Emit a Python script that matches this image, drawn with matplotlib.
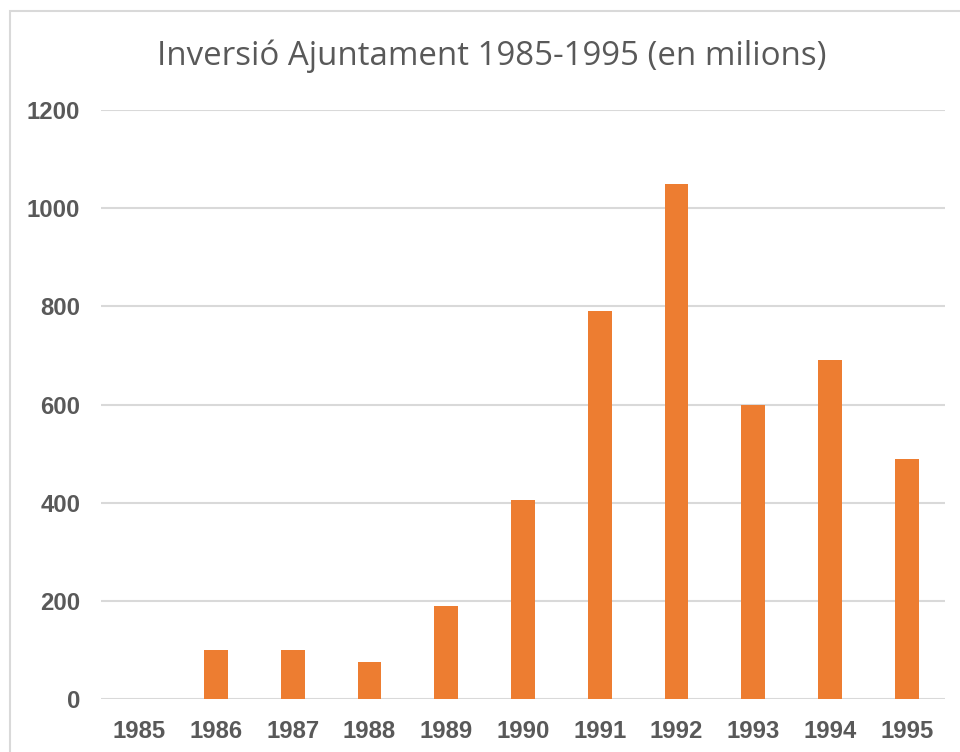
import matplotlib
matplotlib.use("Agg")
import matplotlib.pyplot as plt
from matplotlib.patches import Rectangle

years = ["1985", "1986", "1987", "1988", "1989", "1990",
         "1991", "1992", "1993", "1994", "1995"]
inversio = [0, 100, 100, 75, 190, 405, 790, 1050, 600, 690, 490]
y_ticks = [0, 200, 400, 600, 800, 1000, 1200]
title = "Inversió Ajuntament 1985-1995 (en milions)"

W, H = 960, 752
fig = plt.figure(figsize=(W / 100, H / 100), dpi=100)
fig.patch.set_facecolor("white")

# chart area border
fig.patches.append(Rectangle((10 / W, -0.1), 1.2, 1 - 11 / H + 0.1,
                             transform=fig.transFigure, fill=False,
                             edgecolor="#d9d9d9", linewidth=1.5))

left, right, top, base = 101, 945, 110, 699.3
ax = fig.add_axes([left / W, (H - base) / H, (right - left) / W, (base - top) / H])

x = range(len(years))
ax.bar(x, inversio, width=0.31, color="#ED7D31", zorder=3)

ax.set_xlim(-0.5, len(years) - 0.5)
ax.set_ylim(0, 1200)
ax.set_yticks(y_ticks)
ax.set_xticks(list(x))
ax.set_xticklabels(years)

for s in ax.spines.values():
    s.set_visible(False)
ax.yaxis.grid(True, color="#d9d9d9", linewidth=1.5, zorder=0)
ax.set_axisbelow(True)
ax.tick_params(length=0, labelsize=17.2, labelcolor="#595959")
ax.tick_params(axis="y", pad=15)
ax.tick_params(axis="x", pad=15)
for lab in ax.get_xticklabels() + ax.get_yticklabels():
    lab.set_fontfamily("Liberation Sans")
    lab.set_fontweight("bold")

fig.text(492 / W, 1 - 56 / H, title, ha="center", va="center",
         fontsize=23.8, color="#595959", family="Open Sans")

fig.savefig("out.png", dpi=100, facecolor="white")
